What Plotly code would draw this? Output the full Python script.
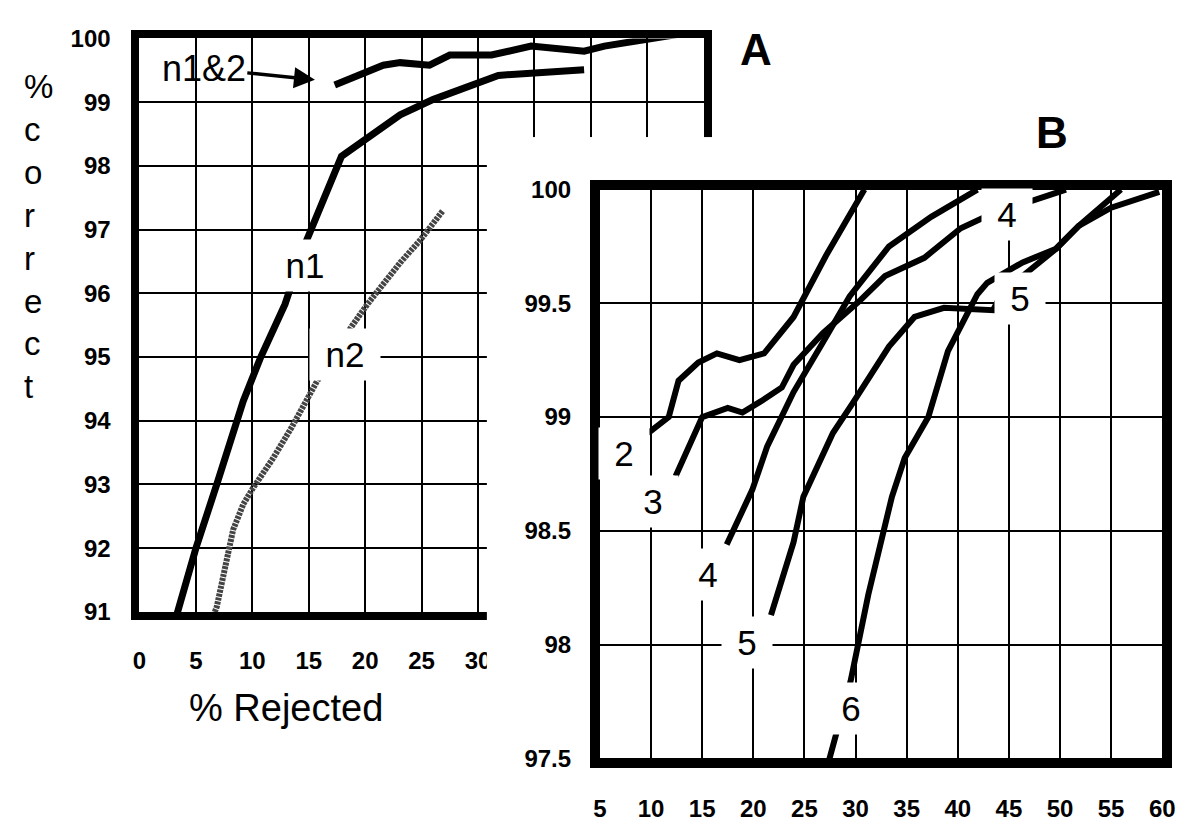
import plotly.graph_objects as go

# page body has an 8px margin, so the figure is drawn 8px smaller and every
# reference pixel position is shifted by OFF
OFF = 8
W, H = 1189 - OFF, 823 - OFF


def px(p):
    return (p - OFF) / W


def py(p):
    return 1 - (p - OFF) / H


# ---------------- Panel A data (% rejected vs % correct) ----------------
n1_x = [3.3, 5.0, 6.85, 8.6, 9.2, 10.75, 12.9, 14.67, 17.9, 23.1, 26.0, 31.8, 39.4]
n1_y = [90.95, 92.0, 93.0, 94.0, 94.31, 95.0, 95.83, 96.77, 98.15, 98.8, 99.04, 99.42, 99.51]

n2_x = [6.55, 6.85, 8.3, 9.2, 10.05, 11.8, 13.5, 14.7, 15.7, 18.8, 20.2, 23.1, 24.9, 26.9]
n2_y = [90.94, 91.08, 92.29, 92.69, 92.94, 93.4, 93.9, 94.31, 94.61, 95.48, 95.83, 96.48, 96.84, 97.3]

n12_x = [17.3, 21.6, 23.1, 25.7, 27.5, 31.2, 34.7, 39.4, 41.2, 44.9, 47.2, 49.0]
n12_y = [99.27, 99.58, 99.62, 99.58, 99.74, 99.74, 99.88, 99.8, 99.88, 99.97, 100.03, 100.1]

a_xticks = [0, 5, 10, 15, 20, 25, 30, 35, 40, 45, 50]
a_yticks = [91, 92, 93, 94, 95, 96, 97, 98, 99, 100]

# ---------------- Panel B data ----------------
c2_x = [9.71, 11.73, 12.69, 14.62, 16.44, 18.65, 21.06, 23.94, 27.12, 30.87]
c2_y = [98.93, 99.0, 99.16, 99.24, 99.28, 99.25, 99.28, 99.44, 99.71, 100.0]

c3_x = [12.4, 15.0, 17.5, 18.94, 20.77, 22.79, 23.94, 26.83, 30.38, 32.88, 36.73, 40.29, 43.17, 46.54, 50.58]
c3_y = [98.74, 99.0, 99.04, 99.02, 99.07, 99.13, 99.23, 99.37, 99.51, 99.62, 99.7, 99.83, 99.89, 99.94, 100.0]

c4_x = [17.4, 19.9, 21.35, 23.94, 26.83, 29.42, 33.27, 37.4, 41.92]
c4_y = [98.44, 98.68, 98.87, 99.11, 99.33, 99.53, 99.75, 99.88, 100.0]

c5_x = [21.73, 23.94, 24.9, 27.79, 29.71, 33.27, 35.77, 38.65, 43.46, 44.13, 46.35, 49.62, 51.83, 55.0, 59.71]
c5_y = [98.13, 98.45, 98.65, 98.93, 99.06, 99.31, 99.44, 99.48, 99.47, 99.53, 99.62, 99.74, 99.84, 99.92, 99.99]

c6_x = [27.4, 29.52, 31.25, 33.56, 34.81, 37.12, 39.04, 41.92, 42.88, 46.35, 49.62, 51.83, 55.96]
c6_y = [97.49, 97.84, 98.22, 98.65, 98.82, 99.0, 99.29, 99.54, 99.59, 99.68, 99.74, 99.84, 100.0]

b_xticks = [5, 10, 15, 20, 25, 30, 35, 40, 45, 50, 55, 60]
b_yticks = [97.5, 98, 98.5, 99, 99.5, 100]
b_yticktext = ["97.5", "98", "98.5", "99", "99.5", "100"]

# curve labels (text, x, y) in data units
a_labels = [("n1", 14.67, 96.43), ("n2", 18.25, 95.04)]
b_labels = [("2", 7.4, 98.84), ("3", 10.19, 98.63), ("4", 15.58, 98.31),
            ("5", 19.42, 98.01), ("6", 29.52, 97.72),
            ("4", 44.81, 99.89), ("5", 46.06, 99.52)]

FONT = "Liberation Sans, Arial, Helvetica, sans-serif"

fig = go.Figure()

# Panel A traces
fig.add_trace(go.Scatter(x=n1_x, y=n1_y, mode="lines", xaxis="x", yaxis="y",
                         line=dict(color="black", width=7), hoverinfo="skip"))
fig.add_trace(go.Scatter(x=n2_x, y=n2_y, mode="lines", xaxis="x", yaxis="y",
                         line=dict(color="#444444", width=6, dash="3px,1px"), hoverinfo="skip"))
fig.add_trace(go.Scatter(x=n12_x, y=n12_y, mode="lines", xaxis="x", yaxis="y",
                         line=dict(color="black", width=7), hoverinfo="skip"))

# opaque sheet on which panel B is mounted (covers part of panel A)
fig.add_trace(go.Scatter(x=[], y=[], xaxis="x2", yaxis="y2", hoverinfo="skip"))

# Panel B traces
for cx, cy in [(c2_x, c2_y), (c3_x, c3_y), (c4_x, c4_y), (c5_x, c5_y), (c6_x, c6_y)]:
    fig.add_trace(go.Scatter(x=cx, y=cy, mode="lines", xaxis="x3", yaxis="y3",
                             line=dict(color="black", width=6), hoverinfo="skip"))

tickfont = dict(family=FONT, size=24, color="black", weight="bold")
axis_common = dict(showgrid=True, gridcolor="black", gridwidth=2,
                   showline=True, linecolor="black", mirror=True,
                   ticks="outside", tickcolor="rgba(0,0,0,0)",
                   tickfont=tickfont, zeroline=False, fixedrange=True)

fig.update_layout(
    width=W, height=H, autosize=False,
    margin=dict(l=0, r=0, t=0, b=0),
    paper_bgcolor="white", plot_bgcolor="white",
    showlegend=False,
    xaxis=dict(domain=[px(134.6), px(708.6)], range=[0, 50], anchor="y",
               tickvals=a_xticks, linewidth=8, ticklen=20, **axis_common),
    yaxis=dict(domain=[py(618.1), py(25)], range=[91, 100], anchor="x",
               tickvals=a_yticks, linewidth=8, ticklen=16, **axis_common),
    xaxis2=dict(domain=[px(488), 1.0], range=[0, 1], anchor="y2", visible=False, fixedrange=True),
    yaxis2=dict(domain=[0.0, py(127)], range=[0, 1], anchor="x2", visible=False, fixedrange=True),
    xaxis3=dict(domain=[px(603), px(1175)], range=[5, 60], anchor="y3",
                tickvals=b_xticks, linewidth=10, ticklen=20, **axis_common),
    yaxis3=dict(domain=[py(769.6), py(181.3)], range=[97.5, 100], anchor="x3",
                tickvals=b_yticks, ticktext=b_yticktext, linewidth=10, ticklen=14, **axis_common),
)

annotations = []
for t, x, y in a_labels:
    annotations.append(dict(text=t, x=x, y=y, xref="x", yref="y", showarrow=False,
                            xanchor="center", yanchor="middle",
                            font=dict(family=FONT, size=35, color="black"),
                            bgcolor="white", width=58, borderpad=6))
# n1&2 arrow label
annotations.append(dict(text="n1&2", x=15.55, y=99.35, xref="x", yref="y",
                        ax=5.7, ay=99.53, axref="x", ayref="y",
                        showarrow=True, arrowhead=2, arrowsize=1.2, arrowwidth=3.5,
                        arrowcolor="black", standoff=0,
                        font=dict(family=FONT, size=36, color="black")))
for t, x, y in b_labels:
    annotations.append(dict(text=t, x=x, y=y, xref="x3", yref="y3", showarrow=False,
                            xanchor="center", yanchor="middle",
                            font=dict(family=FONT, size=35, color="black"),
                            bgcolor="white", width=38, borderpad=6))
# panel letters
annotations.append(dict(text="A", x=px(762), y=py(36), xref="paper", yref="paper",
                        xanchor="center", yanchor="middle", showarrow=False,
                        font=dict(family=FONT, size=44, color="black", weight="bold")))
annotations.append(dict(text="B", x=px(1063), y=py(122), xref="paper", yref="paper",
                        xanchor="center", yanchor="middle", showarrow=False,
                        font=dict(family=FONT, size=44, color="black", weight="bold")))
# axis titles
annotations.append(dict(text="%<br>c<br>o<br>r<br>r<br>e<br>c<br>t", x=px(15), y=py(230),
                        xref="paper", yref="paper", xanchor="left", yanchor="middle", align="left",
                        showarrow=False, font=dict(family=FONT, size=33, color="black")))
annotations.append(dict(text="% Rejected", x=px(284), y=py(718), xref="paper", yref="paper",
                        xanchor="center", yanchor="middle", showarrow=False,
                        font=dict(family=FONT, size=38, color="black")))

fig.update_layout(annotations=annotations)

fig.write_html("out.html")
